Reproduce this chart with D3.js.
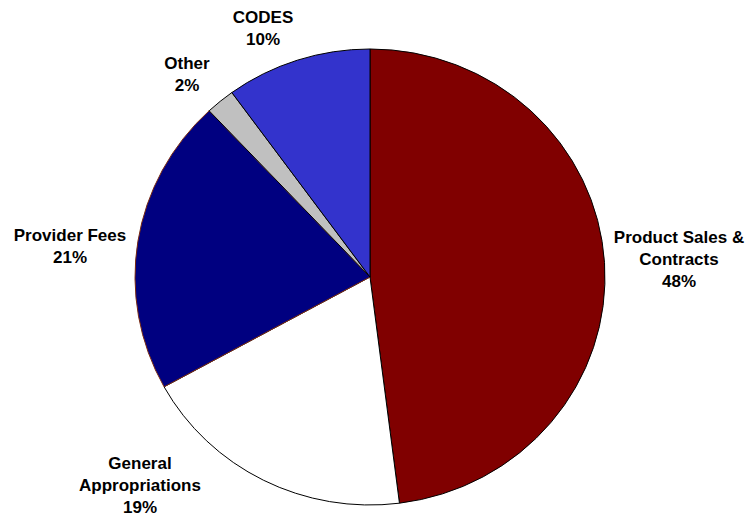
<!DOCTYPE html>
<html>
<head>
<meta charset="utf-8">
<script src="https://cdn.jsdelivr.net/npm/d3@7"></script>
<style>
  body { margin: 0; background: #fff; }
  text { font-family: "Liberation Sans", Arial, sans-serif; font-weight: bold; font-size: 17px; fill: #000; }
</style>
</head>
<body>
<div class="canvas"></div>
<script>
// data
const categories = ["Product Sales & Contracts", "General Appropriations", "Provider Fees", "Other", "CODES"];
const labelLines = [["Product Sales &", "Contracts"], ["General", "Appropriations"], ["Provider Fees"], ["Other"], ["CODES"]];
const shares = [48, 19, 21, 2, 10];

const dims = {width: 747, height: 518};
const cent = {x: 370, y: 277};
const rx = 235, ry = 228;

const colors = d3.scaleOrdinal()
    .domain(categories)
    .range(["#800000", "#ffffff", "#000080", "#c0c0c0", "#3333cc"]);

// label anchor offsets from the centre (first baseline)
const labelAt = {
    "Product Sales & Contracts": [309, -34],
    "General Appropriations": [-230, 192],
    "Provider Fees": [-300, -36],
    "Other": [-183, -208],
    "CODES": [-107, -254]
};

const svg = d3.select(".canvas").append("svg")
    .attr("width", dims.width)
    .attr("height", dims.height);

const data = categories.map((c, i) => ({name: c, value: shares[i], lines: labelLines[i]}));

const pie = d3.pie().sort(null).value(d => d.value);
const arc = d3.arc().innerRadius(0).outerRadius(rx);

const graph = svg.append("g")
    .attr("transform", `translate(${cent.x},${cent.y}) scale(1,${ry / rx})`);

graph.selectAll("path")
    .data(pie(data))
    .enter().append("path")
    .attr("d", arc)
    .attr("fill", d => colors(d.data.name))
    .attr("stroke", d => d.data.name === "Provider Fees" ? "#7a2a10" : "#000")
    .attr("stroke-width", 1)
    .attr("vector-effect", "non-scaling-stroke")
    .attr("stroke-linejoin", "round");

const labels = svg.append("g")
    .attr("transform", `translate(${cent.x},${cent.y})`);

data.forEach(d => {
    const [lx, ly] = labelAt[d.name];
    const t = labels.append("text")
        .attr("text-anchor", "middle")
        .attr("x", lx)
        .attr("y", ly);
    d.lines.concat([d.value + "%"]).forEach((line, i) => {
        t.append("tspan")
            .attr("x", lx)
            .attr("dy", i === 0 ? 0 : 22)
            .text(line);
    });
});
</script>
</body>
</html>
